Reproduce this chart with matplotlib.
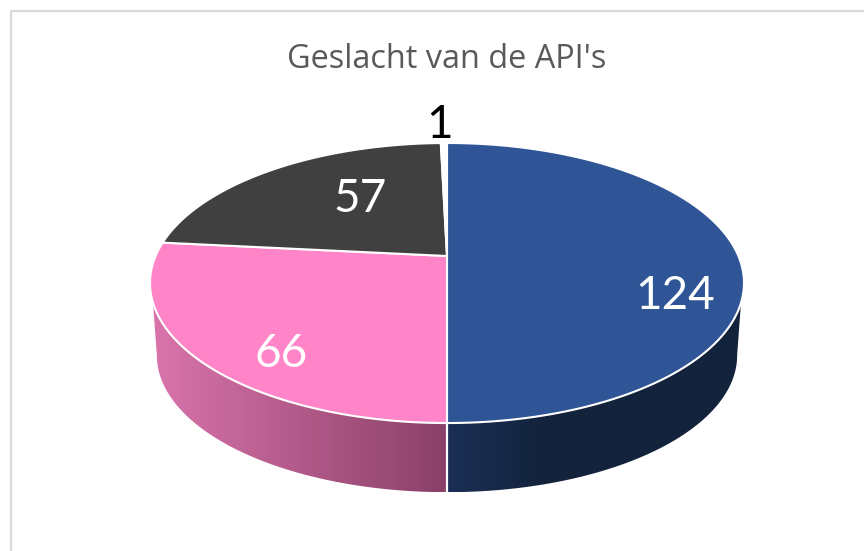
import numpy as np
import matplotlib
matplotlib.use("Agg")
import matplotlib.pyplot as plt
from matplotlib.colors import LinearSegmentedColormap
from matplotlib.patches import Polygon

title = "Geslacht van de API's"
values = [124, 66, 57, 1]
slice_colors = ["#2f5597", "#ff85c8", "#404040", "#ffffff"]
side_colors = [["#1b2f56", "#13233c", "#13233c", "#13233c"], ["#d974ab", "#8a4068"], None, None]
label_colors = ["white", "white", "white", "black"]
label_pos = [(675, 296), (281, 354), (360, 199), (440, 125)]

plt.rcParams["font.family"] = ["Open Sans", "DejaVu Sans"]

# pie seen in perspective, all in pixels of the picture
cx, cy = 447, 256
rx, ry, k = 291.4, 134.8, 0.193
depth, bottom_scale = 73, 0.977


def rim(theta, scale=1.0, dy=0):
    t = np.radians(theta)
    u, v = np.sin(t), np.cos(t)
    w = 1 + k * v
    return cx + scale * rx * u / w, cy + dy - scale * ry * v / w


fig = plt.figure(figsize=(8.64, 5.51), dpi=100)
ax = fig.add_axes([0, 0, 1, 1])
ax.set_xlim(0, 864)
ax.set_ylim(551, 0)
ax.axis("off")

# chart frame, only left and top are in the picture
ax.plot([11, 11, 870], [560, 10.5, 10.5], color="#d9d9d9", lw=1.6, zorder=1)

angles = np.cumsum([0] + values) / sum(values) * 360

# side wall
for i, colors in enumerate(side_colors):
    if colors is None:
        continue
    a, b = angles[i], angles[i + 1]
    top = np.linspace(max(a, 109), min(b, 251), 100)
    low = np.linspace(max(a, 101), min(b, 259), 100)
    tx, ty = rim(top)
    lx, ly = rim(low, bottom_scale, depth)
    pts = np.vstack([np.column_stack([tx, ty]), np.column_stack([lx, ly])[::-1]])
    poly = Polygon(pts, closed=True, fc="none", ec="none", zorder=2)
    ax.add_patch(poly)
    cmap = LinearSegmentedColormap.from_list("side", colors)
    im = ax.imshow(np.linspace(0, 1, 256).reshape(1, -1), cmap=cmap, aspect="auto",
                   extent=[pts[:, 0].min(), pts[:, 0].max(), pts[:, 1].max(), pts[:, 1].min()],
                   zorder=2, interpolation="bilinear")
    im.set_clip_path(poly)

ax.set_xlim(0, 864)
ax.set_ylim(551, 0)

# white line between the walls and along the front rim
x0, y0 = rim(180)
x1, y1 = rim(180, bottom_scale, depth)
ax.plot([x0, x1], [y0, y1], color="white", lw=1.6, zorder=3)

# top face
for i in range(len(values)):
    th = np.linspace(angles[i], angles[i + 1], 200)
    x, y = rim(th)
    pts = np.vstack([[cx, cy], np.column_stack([x, y])])
    ax.add_patch(Polygon(pts, closed=True, fc=slice_colors[i], ec="white", lw=1.5,
                         joinstyle="round", zorder=4))

for val, pos, col in zip(values, label_pos, label_colors):
    ax.text(pos[0], pos[1], str(val), color=col, fontsize=33, family=["Lato", "DejaVu Sans"],
            ha="center", va="center", zorder=5)

ax.text(447, 59, title, color="#595959", fontsize=23.4, ha="center", va="center", zorder=5)

fig.savefig("out.png", dpi=100)
